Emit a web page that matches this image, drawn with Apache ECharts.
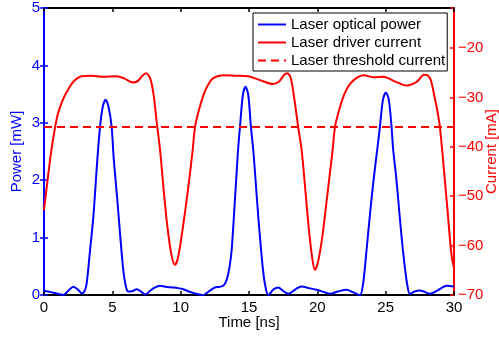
<!DOCTYPE html>
<html>
<head>
<meta charset="utf-8">
<script src="https://cdn.jsdelivr.net/npm/echarts@6/dist/echarts.min.js"></script>
<style>
html,body{margin:0;padding:0;background:#fff;}
#chart{width:499px;height:339px;}
</style>
</head>
<body>
<div id="chart"></div>
<script>
// ---- data ----
const xTicks = [0, 5, 10, 15, 20, 25, 30];
const powerTicks = [0, 1, 2, 3, 4, 5];
const currentTicks = [-70, -60, -50, -40, -30, -20];

const powerTime = [0, 0.3, 0.68, 1.05, 1.41, 1.8, 2.15, 2.5, 2.76, 2.95, 3.12, 3.37, 3.61, 3.9, 4.1, 4.3, 4.51, 4.72, 4.95, 5.1, 5.35, 5.56, 5.8, 6.0, 6.17,
  6.5, 6.78, 7.1, 7.39, 7.9, 8.49, 9.0, 9.46, 9.8, 10.19, 10.6, 11.0, 11.65, 12.1, 12.5, 12.8, 13.0, 13.2, 13.36, 13.55, 13.73, 13.97, 14.1, 14.2, 14.34, 14.55, 14.75, 14.95, 15.14, 15.31, 15.45, 15.68, 16.0, 16.2, 16.41,
  16.8, 17.14, 17.5, 17.87, 18.4, 18.85, 19.4, 19.95, 20.5, 20.92, 21.5, 22.14, 22.6, 23.12, 23.35, 23.6, 23.85, 24.09, 24.38, 24.58, 24.8, 25.02, 25.23, 25.43, 25.55, 25.75, 25.92, 26.15, 26.4, 26.6, 26.77,
  27.1, 27.5, 27.9, 28.24, 28.8, 29.46, 29.95, 30];
const powerMW = [0.075, 0.06, 0.04, 0.02, 0.0, 0.08, 0.145, 0.09, 0.03, 0.06, 0.2, 0.78, 1.36, 2.35, 2.93, 3.28, 3.40, 3.28, 2.93, 2.38, 1.7, 1.08, 0.44, 0.14, 0.06,
  0.07, 0.1, 0.06, 0.01, 0.1, 0.16, 0.14, 0.13, 0.12, 0.1, 0.06, 0.03, 0.0, 0.07, 0.13, 0.14, 0.15, 0.18, 0.26, 0.45, 0.78, 1.66, 2.15, 2.53, 2.93, 3.48, 3.63, 3.48, 2.93, 2.53, 2.1, 1.36, 0.49, 0.15, 0.0,
  0.1, 0.13, 0.07, 0.02, 0.1, 0.15, 0.12, 0.09, 0.05, 0.02, 0.06, 0.09, 0.05, 0.0, 0.2, 0.78, 1.4, 1.95, 2.53, 2.93, 3.4, 3.53, 3.4, 2.93, 2.53, 2.1, 1.66, 1.05, 0.49, 0.15, 0.02,
  0.06, 0.08, 0.05, 0.02, 0.08, 0.16, 0.15, 0.14];

const currentTime = [0, 0.25, 0.5, 0.75, 1.0, 1.3, 1.6, 2.12, 2.45, 2.76, 3.5, 4.3, 5.32, 5.9, 6.53, 6.9, 7.2, 7.46, 7.75, 8.0, 8.29, 8.49, 8.75, 9.0, 9.3, 9.58, 9.8, 10.1, 10.5, 10.88,
  11.05, 11.35, 11.7, 12.0, 12.38, 13.1, 14.0, 14.92, 15.8, 16.77, 17.2, 17.55, 17.8, 18.05, 18.3, 18.6, 18.85, 19.1, 19.35, 19.6, 19.82, 20.05, 20.35, 20.7, 21.12,
  21.29, 21.6, 21.9, 22.14, 22.38, 22.9, 23.36, 24.09, 24.82, 25.7, 26.53, 27.3, 27.8, 28.04, 28.3, 28.55, 28.8, 28.97, 29.2, 29.5, 29.82, 30];
const currentMA = [-52.8, -47.0, -41.5, -37.0, -33.5, -31.0, -29.2, -26.9, -26.1, -25.7, -25.6, -25.8, -25.7, -26.2, -27.0, -26.6, -25.6, -25.1, -26.0, -29.1, -36.0, -40.6, -48.5, -55.5, -61.5, -63.9, -62.5, -57.5, -49.5, -40.6,
  -36.0, -32.4, -29.3, -27.5, -26.1, -25.5, -25.6, -25.7, -26.5, -27.3, -26.8, -25.5, -25.1, -26.0, -30.0, -36.0, -40.6, -48.0, -55.8, -62.0, -64.9, -63.3, -58.5, -50.5, -40.6,
  -36.0, -32.5, -29.9, -28.4, -27.3, -26.0, -25.5, -25.9, -25.8, -26.8, -27.6, -26.8, -25.4, -25.5, -26.5, -29.5, -33.0, -36.0, -42.7, -52.0, -62.0, -64.5];

const thresholdMA = -36;

const seriesNames = ['Laser optical power', 'Laser driver current', 'Laser threshold current'];
const axisTitles = { x: 'Time [ns]', left: 'Power [mW]', right: 'Current [mA]' };

// ---- build ----
const zip = (a, b) => a.map((v, i) => [v, b[i]]);
const BLUE = '#0000ff', RED = '#ff0000';
const FONT = 'Liberation Sans, Arial, sans-serif';

const chart = echarts.init(document.getElementById('chart'), null, { renderer: 'canvas' });
chart.setOption({
  animation: false,
  backgroundColor: '#fff',
  grid: { left: 44, right: 45, top: 8, bottom: 44, containLabel: false, outerBoundsMode: 'none' },
  legend: {
    data: seriesNames,
    orient: 'vertical',
    left: 253, top: 13,
    padding: [4, 2, 3, 4],
    itemWidth: 28, itemHeight: 15, itemGap: 3,
    backgroundColor: '#fff',
    borderColor: '#000', borderWidth: 1, borderRadius: 0,
    itemStyle: { opacity: 0, borderWidth: 0 },
    textStyle: { fontFamily: FONT, fontSize: 15, color: '#000' }
  },
  xAxis: [{
    type: 'value', min: xTicks[0], max: xTicks[xTicks.length - 1], interval: 5,
    name: axisTitles.x, nameLocation: 'middle', nameGap: 20, nameMoveOverlap: false,
    nameTextStyle: { fontFamily: FONT, fontSize: 15, color: '#000' },
    axisLine: { show: true, onZero: false, lineStyle: { color: '#000', width: 2 } },
    axisTick: { show: true, inside: true, length: 4, lineStyle: { color: '#000', width: 1.5 } },
    axisLabel: { fontFamily: FONT, fontSize: 15, color: '#000', margin: 5 },
    splitLine: { show: false }
  }, {
    type: 'value', position: 'top', min: 0, max: 30, interval: 5,
    axisLine: { show: true, onZero: false, lineStyle: { color: '#000', width: 2 } },
    axisTick: { show: true, inside: true, length: 4, lineStyle: { color: '#000', width: 1.5 } },
    axisLabel: { show: false }, splitLine: { show: false }
  }],
  yAxis: [{
    type: 'value', position: 'left', min: powerTicks[0], max: powerTicks[powerTicks.length - 1], interval: 1,
    name: axisTitles.left, nameLocation: 'middle', nameGap: 20, nameMoveOverlap: false,
    nameTextStyle: { fontFamily: FONT, fontSize: 15, color: BLUE },
    axisLine: { show: true, onZero: false, lineStyle: { color: BLUE, width: 2 } },
    axisTick: { show: true, inside: true, length: 4, lineStyle: { color: BLUE, width: 1.5 } },
    axisLabel: { fontFamily: FONT, fontSize: 15, color: BLUE, margin: 4 },
    splitLine: { show: false }
  }, {
    type: 'value', position: 'right', min: currentTicks[0], max: -11.9, interval: 10,
    name: axisTitles.right, nameLocation: 'middle', nameGap: 30, nameMoveOverlap: false,
    nameTextStyle: { fontFamily: FONT, fontSize: 15, color: RED },
    axisLine: { show: true, onZero: false, lineStyle: { color: RED, width: 2 } },
    axisTick: { show: true, inside: true, length: 4, lineStyle: { color: RED, width: 1.5 } },
    axisLabel: { fontFamily: FONT, fontSize: 15, color: RED, margin: 4,
      formatter: v => currentTicks.includes(v) ? String(v).replace('-', '\u2212') : '' },
    splitLine: { show: false }
  }, {
    type: 'value', position: 'right', min: 0, max: 5, interval: 1,
    axisLine: { show: false },
    axisTick: { show: true, inside: true, length: 4, lineStyle: { color: BLUE, width: 1.5 } },
    axisLabel: { show: false }, splitLine: { show: false }
  }],
  series: [{
    name: seriesNames[0], type: 'line', xAxisIndex: 0, yAxisIndex: 0,
    data: zip(powerTime, powerMW), smooth: 0.3, symbol: 'none',
    lineStyle: { color: BLUE, width: 2 }, itemStyle: { color: BLUE }
  }, {
    name: seriesNames[1], type: 'line', xAxisIndex: 0, yAxisIndex: 1,
    data: zip(currentTime, currentMA), smooth: 0.3, symbol: 'none',
    lineStyle: { color: RED, width: 2 }, itemStyle: { color: RED }
  }, {
    name: seriesNames[2], type: 'line', xAxisIndex: 0, yAxisIndex: 1,
    data: [[xTicks[0], thresholdMA], [xTicks[xTicks.length - 1], thresholdMA]], symbol: 'none',
    lineStyle: { color: RED, width: 2, type: [8, 5] }, itemStyle: { color: RED }
  }]
});
</script>
</body>
</html>
